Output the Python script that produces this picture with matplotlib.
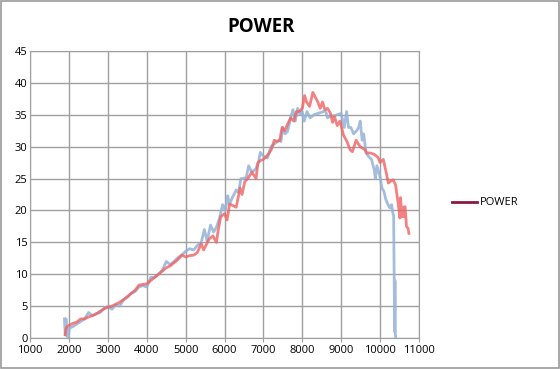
import matplotlib.pyplot as plt
from matplotlib.lines import Line2D
from matplotlib.patches import Rectangle

# blue run
rpm_b = [1880, 1900, 1920, 1950, 1980, 2000, 2100, 2200, 2300, 2400, 2500, 2600, 2700, 2800,
         2900, 3000, 3100, 3200, 3300, 3400, 3500, 3600, 3700, 3800, 3900, 4000, 4100,
         4200, 4300, 4400, 4500, 4600, 4700, 4800, 4900, 5000, 5100, 5200, 5300, 5400,
         5480, 5550, 5640, 5720, 5800, 5880, 5950, 6020, 6080, 6130, 6200, 6300, 6360,
         6420, 6480, 6560, 6620, 6700, 6800, 6870, 6920, 7000, 7100, 7200, 7300, 7400,
         7450, 7500, 7560, 7620, 7700, 7760, 7820, 7880, 7940, 7990, 8050, 8120, 8200,
         8300, 8400, 8500, 8600, 8650, 8720, 8800, 8900, 9000, 9080, 9140, 9190, 9250,
         9320, 9400, 9450, 9490, 9540, 9580, 9640, 9700, 9780, 9850, 9880, 9920, 10000,
         10050, 10100, 10150, 10200, 10250, 10300, 10330, 10350, 10365, 10375, 10385,
         10395, 10405]
pwr_b = [3.0, 0.5, 3.0, 0.3, 0.0, 1.5, 1.8, 2.2, 2.6, 3.0, 4.0, 3.5, 3.8, 4.0,
         4.6, 5.0, 4.5, 5.2, 5.0, 6.0, 6.4, 7.0, 7.3, 8.0, 8.2, 8.0, 9.5,
         9.5, 10.0, 10.6, 12.0, 11.5, 12.0, 12.6, 13.0, 13.6, 14.0, 13.8, 14.5, 15.0,
         17.0, 15.2, 17.7, 16.6, 17.5, 19.0, 20.9, 20.0, 22.3, 21.0, 22.0, 23.2, 22.8,
         25.0, 25.0, 25.2, 27.0, 26.0, 26.5, 27.5, 29.1, 28.5, 28.2, 30.0, 30.5, 31.0,
         30.8, 33.0, 32.0, 32.4, 34.5, 35.8, 34.0, 36.0, 35.0, 35.6, 34.0, 35.5, 34.5,
         35.0, 35.2, 35.4, 35.6, 34.5, 34.8, 34.8, 35.0, 35.2, 33.0, 35.5, 33.0, 33.0,
         32.0, 32.5, 33.0, 34.0, 31.0, 32.0, 29.0, 28.5, 28.0, 26.4, 25.0, 27.0, 25.3,
         23.5, 23.0, 21.7, 21.0, 20.4, 20.9, 19.6, 19.2, 9.0, 1.0, 9.0,
         0.5, 0.0]

# red run
rpm_r = [1900, 1920, 1950, 2000, 2100, 2200, 2300, 2400, 2500, 2600, 2700, 2800, 2900,
         3000, 3100, 3200, 3300, 3400, 3500, 3600, 3700, 3800, 3900, 4000, 4100, 4200,
         4300, 4400, 4500, 4600, 4700, 4800, 4900, 5000, 5100, 5210, 5300, 5400, 5460,
         5520, 5600, 5700, 5790, 5840, 5900, 6000, 6065, 6130, 6200, 6300, 6400, 6450,
         6520, 6600, 6700, 6810, 6860, 6920, 7000, 7100, 7200, 7280, 7350, 7420, 7480,
         7550, 7620, 7700, 7780, 7850, 7920, 8000, 8060, 8110, 8187, 8272, 8330, 8400,
         8460, 8520, 8580, 8650, 8720, 8780, 8828, 8900, 8970, 9060, 9150, 9230, 9290,
         9384, 9487, 9615, 9660, 9750, 9850, 9950, 10000, 10085, 10150, 10214, 10280,
         10340, 10400, 10430, 10470, 10512, 10530, 10560, 10600, 10620, 10640, 10660,
         10680, 10720, 10745]
pwr_r = [0.5, 1.5, 1.8, 2.0, 2.3, 2.5, 3.0, 3.0, 3.3, 3.5, 3.8, 4.2, 4.6,
         4.8, 5.0, 5.3, 5.6, 6.0, 6.5, 7.0, 7.5, 8.3, 8.4, 8.5, 9.0, 9.5,
         10.0, 10.5, 11.0, 11.3, 11.8, 12.3, 13.0, 12.7, 12.9, 13.0, 13.4, 14.8, 13.8,
         14.5, 15.5, 16.0, 15.0, 17.0, 19.0, 19.5, 18.5, 21.0, 20.8, 20.5, 23.5, 22.5,
         24.5, 25.0, 26.0, 25.0, 27.5, 27.8, 28.0, 28.6, 29.5, 31.0, 30.8, 31.0, 33.0,
         32.5, 33.5, 34.5, 34.0, 35.5, 35.5, 36.0, 38.0, 37.0, 36.3, 38.5, 37.8, 37.0,
         36.0, 37.0, 35.8, 36.0, 35.3, 33.8, 34.7, 33.3, 34.0, 31.8, 30.8, 29.5, 29.2,
         31.0, 30.0, 29.5, 29.0, 29.0, 28.8, 28.3, 27.5, 28.0, 26.2, 24.3, 24.6,
         24.8, 24.0, 22.7, 21.0, 18.8, 22.0, 19.0, 20.5, 19.0, 20.6, 19.4,
         17.5, 17.2, 16.4]

xticks = list(range(1000, 11001, 1000))
yticks = list(range(0, 46, 5))

plt.rcParams['font.family'] = ['Open Sans', 'DejaVu Sans']
fig = plt.figure(figsize=(5.6, 3.69), dpi=100)
ax = fig.add_axes([0.054, 0.084, 0.694, 0.778])

ax.plot(rpm_b, pwr_b, color='#94B2D6', lw=2, alpha=0.85, zorder=3)
ax.plot(rpm_r, pwr_r, color='#F06262', lw=2, alpha=0.8, zorder=4)

ax.set_xlim(1000, 11000)
ax.set_ylim(0, 45)
ax.set_xticks(xticks)
ax.set_yticks(yticks)
ax.grid(True, color='#A0A0A0', lw=1)
ax.set_axisbelow(True)
for s in ax.spines.values():
    s.set_color('#A0A0A0')
ax.tick_params(axis='both', labelsize=8, color='#A0A0A0', length=3, pad=2)
ax.tick_params(axis='y', length=0)

fig.suptitle('POWER', x=0.467, y=0.955, fontsize=13.5, fontweight='bold')

h = Line2D([], [], color='#8B1A3F', lw=2)
fig.legend([h], ['POWER'], loc='center left', bbox_to_anchor=(0.79, 0.45),
           frameon=False, fontsize=8, handlelength=2.2, handletextpad=0.3)

fig.patches.append(Rectangle((0.001, 0.002), 0.997, 0.996, transform=fig.transFigure,
                             fill=False, edgecolor='#9A9A9A', lw=1.2))

fig.savefig('out.png', dpi=100)
